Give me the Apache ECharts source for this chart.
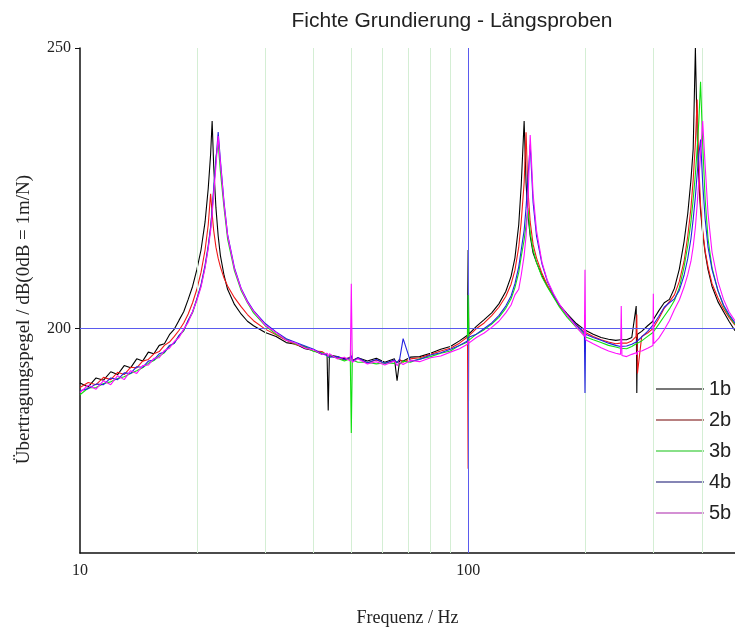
<!DOCTYPE html>
<html>
<head>
<meta charset="utf-8">
<script src="https://cdn.jsdelivr.net/npm/echarts@6/dist/echarts.min.js"></script>
<style>
  html, body { margin: 0; padding: 0; background: #fff; }
  #main { width: 735px; height: 632px; }
</style>
</head>
<body>
<div id="main"></div>
<script>
// Frequenzen (Hz), gemeinsam fuer alle Messreihen
const freq = [
  10, 10.5, 11, 11.5, 12, 12.5, 13, 13.5, 14, 14.5,
  15, 15.5, 16, 16.5, 17, 17.5, 18, 18.5, 19, 19.5,
  20, 20.5, 21, 21.4, 21.7, 21.9, 22.1, 22.4, 22.7, 23,
  23.5, 24, 25, 26, 27, 28, 30, 32, 34, 36,
  38, 40, 42, 43.3, 43.6, 43.9, 46, 48, 49.7, 50,
  50.3, 52, 55, 58, 61, 64.6, 65.6, 66.6, 68, 71,
  75, 80, 85, 90, 95, 99.6, 100, 100.4, 105, 110,
  115, 120, 125, 129, 132, 135, 137, 139.4, 141, 142.5,
  144.5, 147, 150, 155, 160, 166, 172, 180, 190, 199.3,
  200, 200.7, 210, 220, 230, 240, 247, 248, 249, 256,
  264, 271, 272, 273, 280, 290, 299.3, 300, 300.7, 310,
  320, 330, 340, 350, 360, 368, 375, 380, 385, 389,
  393, 397, 402, 408, 415, 425, 440, 455, 470, 487
];

const s1b = [
  190.3, 189.6, 191.2, 190.8, 192.3, 191.8, 193.4, 193.0, 194.6, 194.2,
  195.8, 195.5, 197.0, 197.3, 198.9, 199.9, 201.5, 203.0, 205.2, 207.5,
  210.5, 214.0, 219.0, 225.0, 231.0, 237.0, 229.0, 221.5, 216.5, 213.0,
  209.5, 207.0, 204.3, 202.6, 201.3, 200.5, 199.3, 198.6, 197.5, 197.2,
  196.4, 196.1, 195.4, 195.5, 185.4, 195.3, 195.0, 194.6, 194.8, 196.5,
  194.3, 194.8, 194.2, 194.7, 194.0, 194.6, 190.7, 194.3, 194.2, 194.9,
  195.0, 195.6, 196.3, 196.8, 197.8, 198.8, 214.0, 199.0, 200.4, 201.6,
  202.8, 204.4, 206.6, 209.3, 212.6, 218.5, 225.5, 237.0, 226.0, 220.5,
  216.5, 213.5, 211.8, 209.4, 207.6, 205.7, 204.2, 202.6, 200.9, 199.8,
  199.7, 199.5, 199.0, 198.4, 198.1, 197.9, 198.0, 198.2, 197.8, 198.0,
  198.4, 204.0, 188.5, 199.0, 199.5, 200.5, 201.3, 201.5, 201.7, 203.2,
  204.6, 205.2, 207.2, 210.6, 215.5, 220.5, 226.5, 232.0, 250.0, 235.0,
  226.0, 221.0, 217.0, 213.5, 210.5, 207.5, 204.8, 203.0, 201.3, 199.6
];

const s2b = [
  189.5, 190.4, 190.0, 191.3, 190.9, 192.2, 191.8, 193.1, 193.0, 194.2,
  194.5, 195.5, 195.9, 197.0, 197.6, 198.6, 199.7, 201.0, 202.6, 204.6,
  207.0, 210.0, 214.0, 218.5, 224.0, 220.5, 217.5, 214.5, 212.5, 211.0,
  209.0, 207.6, 205.5, 203.9, 202.5, 201.4, 199.9, 198.9, 197.9, 197.1,
  196.7, 196.0, 195.9, 195.3, 195.6, 195.1, 194.8, 194.4, 194.9, 195.5,
  194.3, 194.7, 193.9, 194.4, 193.8, 194.3, 193.9, 194.5, 194.0, 194.6,
  194.8, 195.4, 196.0, 196.5, 197.4, 198.5, 175.0, 198.7, 200.0, 201.0,
  202.3, 203.8, 205.7, 207.9, 210.4, 214.5, 219.0, 226.0, 235.0, 225.0,
  219.0, 215.0, 212.6, 209.8, 207.7, 205.8, 204.0, 202.4, 200.6, 199.4,
  199.6, 199.2, 198.6, 198.0, 197.6, 197.3, 197.4, 197.2, 197.5, 197.4,
  197.8, 198.6, 202.5, 192.0, 198.6, 199.2, 200.0, 200.2, 200.3, 201.8,
  203.6, 204.8, 206.0, 208.4, 212.0, 216.5, 221.5, 226.5, 233.0, 240.8,
  229.0, 222.0, 217.5, 213.8, 211.0, 208.0, 205.5, 203.5, 202.0, 200.6
];

const s3b = [
  188.2, 189.4, 189.5, 190.2, 190.5, 191.1, 191.4, 192.0, 192.5, 193.0,
  193.8, 194.3, 195.1, 195.7, 196.8, 197.4, 198.7, 199.6, 201.4, 202.8,
  205.2, 207.6, 211.0, 214.5, 218.0, 221.0, 224.5, 230.5, 233.0, 228.0,
  221.5, 216.0, 210.3, 206.8, 204.6, 202.8, 200.5, 199.0, 198.1, 197.2,
  196.8, 195.9, 195.7, 195.4, 194.8, 195.3, 194.7, 194.2, 194.6, 181.4,
  194.4, 194.0, 194.0, 193.7, 193.9, 193.8, 194.1, 193.6, 194.2, 194.0,
  194.6, 195.0, 195.6, 196.0, 197.0, 197.6, 206.0, 197.9, 199.0, 199.8,
  200.8, 202.0, 203.6, 205.3, 207.3, 210.0, 212.8, 215.8, 218.5, 221.5,
  217.0, 214.0, 211.8, 209.2, 207.4, 205.6, 203.8, 202.0, 200.2, 198.9,
  198.7, 198.5, 198.0, 197.5, 197.0, 196.7, 196.5, 196.6, 196.3, 196.4,
  196.8, 197.3, 197.0, 197.5, 197.8, 198.6, 199.3, 199.5, 199.6, 200.8,
  202.2, 203.5, 205.0, 207.3, 211.0, 214.8, 219.0, 223.0, 227.5, 232.0,
  237.0, 244.0, 233.0, 223.0, 216.0, 210.8, 206.8, 204.0, 202.3, 200.8
];

const s4b = [
  188.9, 189.3, 190.1, 190.0, 191.2, 190.9, 192.1, 192.0, 193.2, 193.1,
  194.2, 194.4, 195.5, 195.8, 197.0, 197.4, 198.8, 199.7, 201.5, 203.0,
  205.3, 207.8, 211.3, 214.8, 218.0, 221.2, 225.0, 230.0, 235.0, 230.0,
  222.5, 216.8, 210.8, 207.2, 204.9, 203.2, 200.9, 199.4, 198.2, 197.5,
  196.9, 196.3, 195.5, 195.2, 195.5, 194.9, 195.0, 194.5, 194.8, 195.2,
  194.2, 194.8, 193.9, 194.5, 193.8, 194.4, 193.9, 194.5, 198.2, 194.2,
  194.5, 195.3, 195.7, 196.3, 197.0, 197.8, 198.4, 198.1, 199.0, 200.0,
  201.0, 202.3, 204.0, 205.8, 208.0, 211.0, 214.0, 217.5, 221.5, 226.5,
  232.8, 222.5, 216.5, 211.5, 208.4, 206.0, 204.2, 202.4, 200.6, 199.2,
  188.5, 199.0, 198.4, 197.9, 197.4, 197.0, 196.8, 196.9, 196.6, 196.9,
  197.2, 197.6, 197.4, 197.9, 198.5, 199.5, 200.6, 200.8, 200.9, 202.2,
  203.8, 204.6, 205.3, 206.8, 209.5, 212.5, 216.0, 219.5, 223.5, 227.5,
  231.0, 233.7, 226.0, 219.5, 214.5, 210.5, 206.8, 204.2, 202.5, 201.0
];

const s5b = [
  188.6, 189.9, 189.2, 190.7, 190.0, 191.6, 190.9, 192.5, 192.0, 193.4,
  193.5, 194.7, 194.8, 196.1, 196.5, 197.7, 198.4, 199.9, 201.1, 203.0,
  205.0, 207.4, 210.8, 214.3, 217.4, 220.4, 224.0, 229.0, 234.3, 229.6,
  222.2, 216.6, 210.6, 207.1, 204.7, 203.1, 200.6, 199.3, 197.9, 197.4,
  196.5, 196.2, 195.4, 195.6, 195.0, 195.5, 194.6, 194.9, 194.2, 208.0,
  194.0, 194.6, 193.7, 194.1, 193.5, 194.2, 193.4, 194.0, 193.6, 194.3,
  194.1, 194.8, 195.1, 195.8, 196.4, 197.2, 197.8, 197.4, 198.4, 199.2,
  200.2, 201.3, 202.8, 204.2, 206.0, 207.0, 209.5, 213.0, 216.5, 222.0,
  234.5, 224.0, 217.5, 211.8, 208.6, 206.2, 204.3, 202.4, 200.3, 198.6,
  210.5, 198.0, 197.3, 196.6, 196.0, 195.6, 195.4, 204.0, 195.2, 195.0,
  195.4, 195.7, 195.3, 195.9, 196.0, 196.5, 197.0, 206.2, 197.3, 198.3,
  199.8, 201.4, 203.4, 205.1, 207.4, 209.6, 212.0, 214.6, 218.0, 222.0,
  226.5, 231.0, 237.0, 229.0, 220.5, 213.6, 208.4, 205.2, 203.0, 201.4
];

const seriesNames = ['1b', '2b', '3b', '4b', '5b'];
const seriesValues = [s1b, s2b, s3b, s4b, s5b];
const seriesColors = ['#000000', '#f01818', '#10e010', '#2222e0', '#ff10ff'];
const legendColors = ['#777777', '#b88080', '#88e088', '#8585b5', '#d490d4'];

// Achsenbeschriftung
const xLabelValues = [10, 100];
const xTickValues = [20, 30, 40, 50, 60, 70, 80, 90, 100, 200, 300, 400];
const greenLines = [20, 30, 40, 50, 60, 70, 80, 90, 200, 300, 400];
const yLabelValues = [200, 250];

let myChart = echarts.init(document.getElementById('main'));

const serif = 'Liberation Serif, Times New Roman, serif';
const sans = 'Liberation Sans, Arial, sans-serif';

let series = seriesNames.map((name, k) => ({
  name: name,
  type: 'line',
  symbol: 'none',
  z: 3 + k,
  lineStyle: { width: 1.1, color: seriesColors[k] },
  itemStyle: { color: seriesColors[k] },
  data: freq.map((f, i) => [f, seriesValues[k][i]])
}));

// Hilfslinien (gruen bei Zwischenfrequenzen, blau bei 100 Hz und 200 dB)
series.unshift({
  name: 'grid',
  type: 'line',
  symbol: 'none',
  z: 1,
  data: [],
  markLine: {
    silent: true,
    symbol: 'none',
    animation: false,
    label: { show: false },
    lineStyle: { color: '#5a5aee', width: 1, type: 'solid', opacity: 1 },
    data: greenLines.map(v => ({ xAxis: v, lineStyle: { color: '#d4eed4', width: 1, type: 'solid' } }))
      .concat([
        { xAxis: 100, lineStyle: { color: '#5a5aee', width: 1, type: 'solid' } },
        { yAxis: 200, lineStyle: { color: '#5a5aee', width: 1, type: 'solid' } }
      ])
  }
});

let option = {
  animation: false,
  backgroundColor: '#ffffff',
  title: {
    text: 'Fichte Grundierung - Längsproben',
    left: 447,
    top: 6,
    textAlign: 'center',
    textStyle: { fontFamily: sans, fontSize: 21, fontWeight: 'normal', color: '#222' }
  },
  legend: {
    data: seriesNames.map((n, k) => ({ name: n, itemStyle: { color: legendColors[k] } })),
    orient: 'vertical',
    left: 651,
    top: 373,
    icon: 'rect',
    itemWidth: 48,
    itemHeight: 2,
    itemGap: 9,
    textStyle: { fontFamily: sans, fontSize: 20, color: '#222', lineHeight: 22, padding: [0, 0, 0, 0] }
  },
  grid: { left: 80, right: 0, top: 48, bottom: 77 },
  xAxis: {
    type: 'log',
    logBase: 10,
    min: 10,
    max: 487,
    name: 'Frequenz / Hz',
    nameLocation: 'middle',
    nameGap: 56,
    nameTextStyle: { fontFamily: serif, fontSize: 18, color: '#222' },
    axisLine: { lineStyle: { color: '#111', width: 1.5 } },
    axisTick: { inside: true, length: 5, customValues: xTickValues, lineStyle: { color: '#111' } },
    axisLabel: { customValues: xLabelValues, fontFamily: serif, fontSize: 16, color: '#222', margin: 10 },
    splitLine: { show: false },
    minorTick: { show: false }
  },
  yAxis: {
    type: 'value',
    min: 160,
    max: 250,
    name: 'Übertragungspegel / dB(0dB = 1m/N)',
    nameLocation: 'middle',
    nameGap: 46,
    nameTextStyle: { fontFamily: serif, fontSize: 19, color: '#222', padding: [0, 38, 0, 0] },
    axisLine: { show: true, lineStyle: { color: '#111', width: 1.5 } },
    axisTick: { show: true, length: 5, customValues: yLabelValues, lineStyle: { color: '#111' } },
    axisLabel: { customValues: yLabelValues, fontFamily: serif, fontSize: 16, color: '#222', margin: 9 },
    splitLine: { show: false }
  },
  series: series
};

myChart.setOption(option);
</script>
</body>
</html>
